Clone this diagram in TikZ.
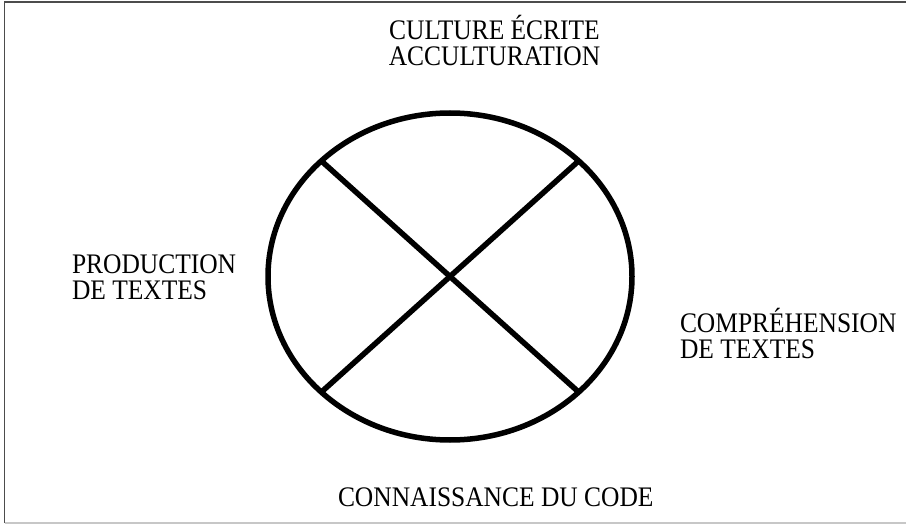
\documentclass[tikz,border=0pt]{standalone}
\usepackage{fontspec}
\setmainfont{Liberation Serif}[FakeStretch=0.9]
\usetikzlibrary{shapes.geometric}
\begin{document}
\begin{tikzpicture}[x=1pt,y=-1pt,
  lbl/.style={inner sep=0pt, outer sep=0pt, font=\fontsize{28.3}{25.8}\selectfont},
  ring/.style={ellipse, draw=black, line width=5.5pt, inner sep=0pt, outer sep=0pt,
    minimum width=364pt, minimum height=327pt},
  bar/.style={draw=black, line width=5.5pt}]
\useasboundingbox (0,0) rectangle (906,527);
\fill[white] (0,0) rectangle (906,527);
% frame
\draw[draw=black!70, line width=1.6pt] (4.5,523) -- (4.5,2) -- (906,2);
\draw[draw=black!22, line width=1.4pt] (4.5,523) -- (906,523);
% ring
\node[ring] (e) at (450,276.5) {};
\draw[bar] (e.north west) -- (e.south east);
\draw[bar] (e.north east) -- (e.south west);
% labels
\node[lbl, align=center, anchor=south] (top) at (494.5,66) {CULTURE ÉCRITE\\ACCULTURATION};
\node[lbl, align=left, anchor=south west] (left) at (72,300) {PRODUCTION\\DE TEXTES};
\node[lbl, align=left, anchor=south west] (right) at (680,358.3) {COMPRÉHENSION\\DE TEXTES};
\node[lbl, anchor=base west] (bottom) at (338,506.7) {CONNAISSANCE DU CODE};
\end{tikzpicture}
\end{document}
